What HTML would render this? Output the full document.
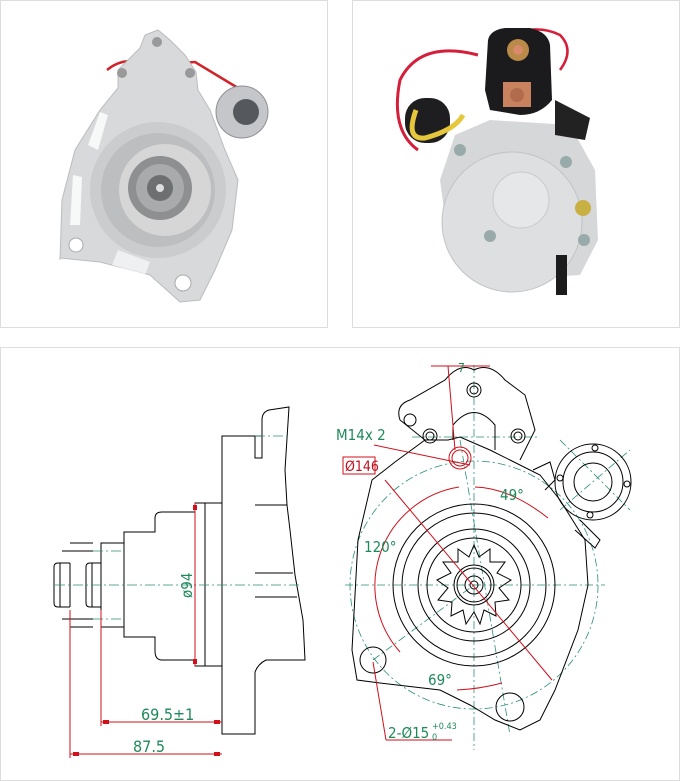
<!DOCTYPE html>
<html><head><meta charset="utf-8"><style>
html,body{margin:0;padding:0;background:#fff;}
svg{display:block;font-family:"DejaVu Sans Condensed","Liberation Sans Narrow","Liberation Sans",sans-serif;}
</style></head><body>
<svg width="680" height="781" viewBox="0 0 680 781" xmlns="http://www.w3.org/2000/svg">
<rect x="0" y="0" width="680" height="781" fill="#fff"/>
<rect x="0.5" y="0.5" width="327" height="327" fill="#fff" stroke="#ddd"/>
<rect x="352.5" y="0.5" width="327" height="327" fill="#fff" stroke="#ddd"/>
<rect x="0.5" y="347.5" width="679" height="433" fill="#fff" stroke="#ddd"/>

<!-- LEFT PHOTO -->
<path d="M107 70 Q125 55 150 65 L195 62 L238 88" stroke="#d2232a" stroke-width="2.5" fill="none"/>
<path d="M60 260 L62 200 L75 150 L100 110 L118 88 L118 70 L140 48 L145 35 L158 30 L170 40 L185 55 L196 72 L198 90 L210 110 L225 150 L238 180 L232 230 L215 270 L200 300 L180 302 L150 275 L100 262 L60 258Z" fill="#d8d9db" stroke="#bbbcbe"/>
<circle cx="158" cy="190" r="68" fill="#cbccce"/>
<circle cx="158" cy="190" r="57" fill="#bdbec0"/>
<circle cx="165" cy="190" r="46" fill="#d6d6d7"/>
<circle cx="160" cy="188" r="32" fill="#8e8f91"/>
<circle cx="160" cy="188" r="24" fill="#a9aaac"/>
<circle cx="160" cy="188" r="13" fill="#6e6f71"/>
<circle cx="160" cy="188" r="4" fill="#ddd"/>
<circle cx="157" cy="42" r="5" fill="#999"/>
<circle cx="122" cy="73" r="5" fill="#999"/>
<circle cx="190" cy="73" r="5" fill="#999"/>
<circle cx="183" cy="283" r="8" fill="#fff" stroke="#aaa"/>
<circle cx="76" cy="245" r="7" fill="#fff" stroke="#aaa"/>
<circle cx="242" cy="112" r="26" fill="#c4c6c9" stroke="#8e9094"/>
<circle cx="246" cy="112" r="13" fill="#55585d"/>
<path d="M88 145 L100 112 L108 115 L98 150Z" fill="#fff" opacity=".8"/>
<path d="M70 225 L73 175 L82 177 L80 225Z" fill="#fff" opacity=".8"/>
<path d="M112 265 L118 250 L150 262 L145 275Z" fill="#fff" opacity=".6"/>

<!-- RIGHT PHOTO -->
<path d="M478 55 Q420 40 400 80 Q390 130 418 150" stroke="#d51f3a" stroke-width="3" fill="none"/>
<path d="M490 45 Q530 20 560 35 Q575 50 560 70" stroke="#d51f3a" stroke-width="2.5" fill="none"/>
<path d="M440 180 L455 135 L490 120 L570 125 L595 170 L598 240 L580 275 L500 280 L450 255Z" fill="#d6d7d9"/>
<circle cx="512" cy="222" r="70" fill="#dedfe1" stroke="#c2c3c5"/>
<circle cx="521" cy="200" r="28" fill="#e6e7e9" stroke="#c9cacc"/>
<path d="M488 40 Q490 30 505 28 L530 28 Q548 32 550 45 L552 100 Q540 115 520 115 L490 110 L485 90Z" fill="#1b1b1d"/>
<circle cx="518" cy="50" r="11" fill="#b98a48"/>
<circle cx="518" cy="50" r="5" fill="#d88a6a"/>
<rect x="503" y="82" width="28" height="25" fill="#c9825e"/>
<circle cx="517" cy="95" r="7" fill="#b06c4c"/>
<path d="M555 100 L590 118 L585 140 L555 135Z" fill="#222"/>
<rect x="405" y="98" width="45" height="45" rx="20" fill="#1e1e20"/>
<path d="M416 110 Q405 140 425 138 Q455 130 463 115" stroke="#e6c63a" stroke-width="5" fill="none"/>
<rect x="556" y="255" width="11" height="40" fill="#1c1c1c"/>
<circle cx="583" cy="208" r="8" fill="#c9b042"/>
<circle cx="566" cy="162" r="6" fill="#9aa"/>
<circle cx="490" cy="236" r="6" fill="#9aa"/>
<circle cx="584" cy="240" r="6" fill="#9aa"/>
<circle cx="460" cy="150" r="6" fill="#9aa"/>

<!-- LEFT DRAWING -->
<g stroke="#000" stroke-width="1" fill="none">
<path d="M222 436 L222 734 L255 734 L255 672 Q258 664 266 660 L305 660 L303 620 L295 575 L290 530 L287 505 L285 470 L289 407 L269 410 Q262 412 262 420 L262 458 L255 458 L255 436 Z"/>
<line x1="222" y1="436" x2="262" y2="436"/>
<line x1="255" y1="505" x2="287" y2="505"/>
<line x1="255" y1="573" x2="293" y2="573"/>
<line x1="255" y1="597" x2="297" y2="597"/>
<path d="M222 503 L195 503 L195 666 L222 666"/>
<path d="M205 503 L205 666"/>
<path d="M195 512 L162 512 Q155 512 155 518 L155 532 L124 532 L124 637 L155 637 L155 651 Q155 660 162 660 L195 660"/>
<path d="M124 543 L101 543 L101 627 L124 627"/>
<path d="M101 563 L90 563 Q86 563 86 567 L86 603 Q86 607 90 607 L101 607"/>
<path d="M92 563 L92 607"/>
<path d="M70 543 L93 543"/><path d="M70 627 L93 627"/>
<path d="M70 563 L70 607"/>
<path d="M70 563 L58 563 Q54 563 54 567 L54 603 Q54 607 58 607 L70 607"/>
<path d="M60 563 L60 607"/>
<line x1="62" y1="551" x2="93" y2="551"/><line x1="62" y1="619" x2="93" y2="619"/>
</g>
<g stroke="#2a8f7a" stroke-width="0.8" stroke-dasharray="10 3 2 3" fill="none">
<line x1="55" y1="585" x2="302" y2="585"/>
<line x1="93" y1="551" x2="124" y2="551"/><line x1="93" y1="619" x2="124" y2="619"/>
<line x1="255" y1="436" x2="289" y2="436"/>
</g>
<g stroke="#d0101a" stroke-width="1" fill="none">
<line x1="195" y1="503" x2="195" y2="666"/>
<line x1="70" y1="610" x2="70" y2="758"/>
<line x1="101" y1="610" x2="101" y2="726"/>
<line x1="101" y1="722" x2="222" y2="722"/>
<line x1="70" y1="754" x2="222" y2="754"/>
</g>
<g fill="#d0101a"><rect x="193" y="505" width="4" height="5"/><rect x="193" y="659" width="4" height="5"/>
<rect x="103" y="720" width="6" height="4"/><rect x="214" y="720" width="6" height="4"/>
<rect x="73" y="752" width="6" height="4"/><rect x="214" y="752" width="6" height="4"/></g>
<g fill="#1e8a5a" font-size="16">
<text x="141" y="720">69.5±1</text>
<text x="133" y="752">87.5</text>
<text transform="translate(192,598) rotate(-90)" font-size="15">ø94</text>
</g>

<!-- RIGHT DRAWING -->
<g stroke="#2a8f7a" stroke-width="0.8" stroke-dasharray="8 3 2 3" fill="none">
<circle cx="474" cy="585" r="124"/>
<line x1="474" y1="365" x2="474" y2="750"/>
<line x1="345" y1="585" x2="605" y2="585"/>
<line x1="412" y1="437" x2="540" y2="437"/>
<line x1="460" y1="440" x2="510" y2="735"/>
<line x1="373" y1="660" x2="474" y2="585"/>
<line x1="560" y1="440" x2="630" y2="510"/><line x1="560" y1="510" x2="630" y2="450"/>
</g>
<g stroke="#000" stroke-width="1" fill="none">
<path d="M357 680 L352 650 L358 540 L372 480 L395 462 L425 440 L448 440 L460 437 L490 450 L510 460 L540 475 L560 500 L585 540 L588 585 L578 630 L555 690 L540 720 L520 730 L495 720 L470 705 L440 690 L380 683 Z"/>
<path d="M425 440 L400 420 Q395 405 410 400 L445 380 Q460 362 474 370 Q490 362 505 380 L525 395 L535 430 L520 460"/>
<circle cx="474" cy="390" r="7"/><circle cx="474" cy="390" r="4"/>
<circle cx="430" cy="436" r="7"/><circle cx="430" cy="436" r="4"/>
<circle cx="518" cy="436" r="7"/><circle cx="518" cy="436" r="4"/>
<circle cx="410" cy="420" r="6"/>
<path d="M453 440 L453 425 Q474 400 495 425 L495 450"/>
<circle cx="474" cy="585" r="81"/><circle cx="474" cy="585" r="72"/>
<circle cx="474" cy="585" r="56"/><circle cx="474" cy="585" r="47"/>
<circle cx="474" cy="585" r="20"/><circle cx="474" cy="585" r="17"/><circle cx="474" cy="585" r="9"/><circle cx="474" cy="585" r="4"/>
<path d="M474 545 L479 557 L490 549 L490 562 L505 562 L497 573 L511 580 L499 588 L509 600 L495 602 L496 616 L484 610 L480 624 L474 612 L466 624 L463 610 L451 616 L452 602 L438 600 L448 588 L437 580 L451 573 L443 562 L458 562 L458 549 L469 557 Z"/>
<circle cx="593" cy="482" r="38"/><circle cx="593" cy="482" r="30"/><circle cx="593" cy="482" r="19"/>
<circle cx="595" cy="448" r="3"/><circle cx="560" cy="478" r="3"/><circle cx="627" cy="484" r="3"/><circle cx="590" cy="515" r="3"/>
<path d="M533 470 L550 462 L555 480 L545 490"/><path d="M580 520 L600 540 L595 548 L575 530"/>
<circle cx="373" cy="660" r="13"/><circle cx="510" cy="707" r="14"/>
</g>
<g stroke="#d0101a" stroke-width="1" fill="none">
<circle cx="460" cy="458" r="11"/><circle cx="460" cy="458" r="8"/>
<path d="M459 487 A100 100 0 0 0 400 652"/>
<path d="M475 487 Q510 488 548 518"/>
<path d="M457 690 Q480 689 502 683"/>
<line x1="385" y1="480" x2="552" y2="680"/>
<line x1="374" y1="445" x2="470" y2="465"/>
<line x1="431" y1="366" x2="490" y2="366"/>
<line x1="448" y1="366" x2="455" y2="450"/>
<line x1="373" y1="662" x2="386" y2="740"/>
<path d="M386 740 L452 740"/>
<rect x="343" y="457" width="32" height="17"/>
</g>
<g fill="#1e8a5a" font-size="15">
<text x="458" y="372" font-size="12">7</text>
<text x="336" y="440">M14x 2</text>
<text x="345" y="471" fill="#c01020" font-size="14">Ø146</text>
<text x="500" y="500">49°</text>
<text x="364" y="552">120°</text>
<text x="428" y="685">69°</text>
<text x="388" y="738">2-Ø15</text>
<text x="432" y="729" font-size="9">+0.43</text>
<text x="432" y="740" font-size="9">0</text>
</g>
</svg>
</body></html>
